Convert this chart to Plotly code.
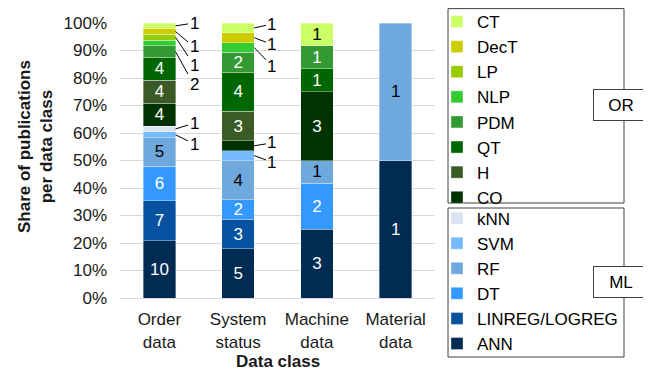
import plotly.graph_objects as go

categories = ["Order<br>data", "System<br>status", "Machine<br>data", "Material<br>data"]

# series in stacking order (bottom -> top); counts of publications
series_names = ["ANN", "LINREG/LOGREG", "DT", "RF", "SVM", "kNN",
                "CO", "H", "QT", "PDM", "NLP", "LP", "DecT", "CT"]
ANN = [10, 5, 3, 1]
LINREG_LOGREG = [7, 3, 0, 0]
DT = [6, 2, 2, 0]
RF = [5, 4, 1, 1]
SVM = [1, 1, 0, 0]
kNN = [1, 0, 0, 0]
CO = [4, 1, 3, 0]
H = [4, 3, 0, 0]
QT = [4, 4, 1, 0]
PDM = [2, 2, 1, 0]
NLP = [1, 1, 0, 0]
LP = [1, 0, 0, 0]
DecT = [1, 1, 0, 0]
CT = [1, 1, 1, 0]
series_values = [ANN, LINREG_LOGREG, DT, RF, SVM, kNN, CO, H, QT, PDM, NLP, LP, DecT, CT]

ML_group = ["ANN", "LINREG/LOGREG", "DT", "RF", "SVM", "kNN"]

colors = {
    "CT": "#CCFF66", "DecT": "#CCCC00", "LP": "#99CC00", "NLP": "#33CC33",
    "PDM": "#339933", "QT": "#006600", "H": "#3A5A26", "CO": "#003300",
    "kNN": "#DAE3F0", "SVM": "#75B9FF", "RF": "#6FA8DC", "DT": "#3399FF",
    "LINREG/LOGREG": "#0652A0", "ANN": "#002B53",
}
dark_text = {"CT", "RF", "SVM", "kNN"}

# segments labelled outside the bar with a leader line
callout_series = ["CT", "DecT", "LP", "PDM", "kNN", "SVM", "CT", "DecT", "NLP", "CO", "SVM"]
callout_cat = [0, 0, 0, 0, 0, 0, 1, 1, 1, 1, 1]
callout_x = [0.44, 0.44, 0.44, 0.44, 0.44, 0.44, 1.43, 1.43, 1.43, 1.43, 1.43]
callout_y = [100.0, 91.3, 84.7, 77.5, 63.6, 56.0, 99.6, 92.2, 84.3, 56.4, 49.4]
# segments whose label is not shown in the reference
unlabelled = {("NLP", 0)}

FONT = "Liberation Sans, Arial, sans-serif"
TXT = "#1a1a1a"

totals = [sum(v[i] for v in series_values) for i in range(len(categories))]
outside = set(zip(callout_series, callout_cat)) | unlabelled

fig = go.Figure()
for name, vals in zip(series_names, series_values):
    texts = []
    for i, v in enumerate(vals):
        if v and (name, i) not in outside:
            texts.append(str(v))
        else:
            texts.append("")
    fig.add_trace(go.Bar(
        name=name, x=categories, y=[v if v else None for v in vals],
        marker=dict(color=colors[name], line=dict(color="rgba(255,255,255,0.6)", width=0.6)),
        text=texts, textposition="inside", insidetextanchor="middle", textangle=0,
        textfont=dict(family=FONT, size=17, color="black" if name in dark_text else "white"),
        legend="legend2" if name in ML_group else "legend",
        hoverinfo="skip",
    ))

# callout annotations
anns = []
for s, c, lx, ly in zip(callout_series, callout_cat, callout_x, callout_y):
    idx = series_names.index(s)
    below = sum(series_values[k][c] for k in range(idx))
    mid = (below + series_values[idx][c] / 2) / totals[c] * 100
    anns.append(dict(
        x=c + 0.205, y=mid, xref="x", yref="y",
        ax=lx, ay=ly, axref="x", ayref="y",
        text=str(series_values[idx][c]), showarrow=True, arrowhead=0,
        arrowwidth=1, arrowcolor="black", standoff=0,
        font=dict(family=FONT, size=17, color="black"),
    ))

# page body adds an 8px offset; figure sized to the remaining window
OFF = 8
W, H_ = 651 - OFF, 371 - OFF
L, T = 112, 15
pw, ph = 315, 275
R, B = W - L - pw, H_ - T - ph
def px(x): return (x - OFF - L) / pw          # reference pixel -> paper x
def py(y): return (H_ - B - (y - OFF)) / ph   # reference pixel -> paper y

anns.append(dict(text="<b>Share of publications<br>per data class</b>", x=px(35), y=py(147),
                 xref="paper", yref="paper", showarrow=False, textangle=-90,
                 xanchor="center", yanchor="middle",
                 font=dict(family=FONT, size=17, color=TXT)))
anns.append(dict(text="<b>Data class</b>", x=0.5, y=py(361), xref="paper", yref="paper",
                 showarrow=False, xanchor="center", yanchor="middle",
                 font=dict(family=FONT, size=17, color=TXT)))
for lab, cy in (("OR", 105), ("ML", 282)):
    anns.append(dict(text=lab, x=px(621), y=py(cy), xref="paper", yref="paper",
                     showarrow=False, xanchor="center", yanchor="middle",
                     width=54, height=30, bgcolor="white", bordercolor="#404040",
                     borderwidth=1, borderpad=0,
                     font=dict(family=FONT, size=17, color="black")))

shapes = [
    dict(type="rect", xref="paper", yref="paper", x0=px(448), x1=px(624), y0=py(8.6), y1=py(203),
         line=dict(color="#404040", width=1), fillcolor="rgba(0,0,0,0)", layer="above"),
    dict(type="rect", xref="paper", yref="paper", x0=px(448), x1=px(624), y0=py(208), y1=py(357),
         line=dict(color="#404040", width=1), fillcolor="rgba(0,0,0,0)", layer="above"),
]

legend_common = dict(font=dict(family=FONT, size=17, color="black"), bgcolor="rgba(0,0,0,0)",
                     borderwidth=0, traceorder="reversed", xanchor="left", yanchor="top",
                     maxheight=400)

fig.update_layout(
    width=W, height=H_, margin=dict(l=L, r=R, t=T, b=B, autoexpand=False),
    barmode="stack", barnorm="percent", bargap=0.59,
    plot_bgcolor="white", paper_bgcolor="white",
    font=dict(family=FONT, size=17, color=TXT),
    uniformtext=dict(mode="show", minsize=17),
    xaxis=dict(type="category", range=[-0.5, 3.5], showgrid=False, showline=True,
               linecolor="#d9d9d9", linewidth=1, ticks="", ticklabelstandoff=6,
               tickfont=dict(family=FONT, size=17, color=TXT)),
    yaxis=dict(range=[0, 100], dtick=10, ticksuffix="%", gridcolor="#d9d9d9", gridwidth=1,
               zeroline=False, showline=False, ticks="", ticklabelstandoff=12,
               tickfont=dict(family=FONT, size=17, color=TXT)),
    legend=dict(x=px(437), y=py(4.0), **legend_common),
    legend2=dict(x=px(437), y=py(200.5), **legend_common),
    annotations=anns, shapes=shapes,
    showlegend=True,
)

fig.write_html("out.html")
